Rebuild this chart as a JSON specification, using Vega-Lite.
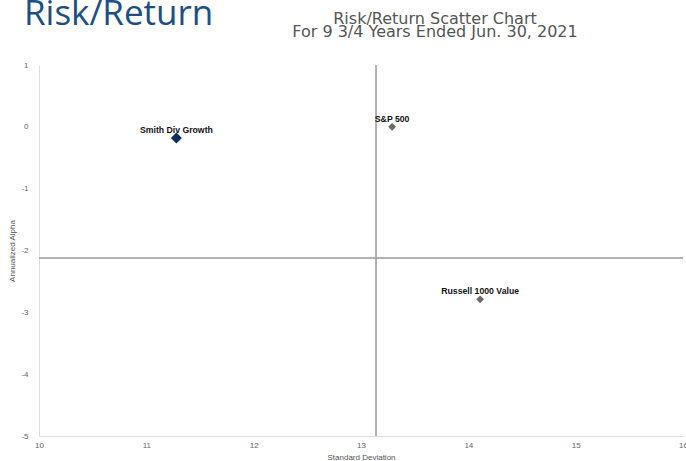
{
  "$schema": "https://vega.github.io/schema/vega-lite/v6.json",
  "autosize": "none",
  "padding": {"left": 39, "top": 65, "right": 3, "bottom": 25},
  "width": 644,
  "height": 371,
  "background": "white",
  "datasets": {
    "points": [
      {"name": "Smith Div Growth", "std": 11.28, "alpha": -0.18, "kind": "fund"},
      {"name": "S&P 500", "std": 13.29, "alpha": 0.0, "kind": "index"},
      {"name": "Russell 1000 Value", "std": 14.11, "alpha": -2.79, "kind": "index"}
    ],
    "cross": [{"std": 13.14, "alpha": -2.12}],
    "header": [{"text": "Risk/Return"}]
  },
  "title": {
    "text": ["Risk/Return Scatter Chart", "For 9 3/4 Years Ended Jun. 30, 2021"],
    "anchor": "middle",
    "frame": "group",
    "baseline": "bottom",
    "dx": 74,
    "offset": -59,
    "fontSize": 16,
    "lineHeight": 13,
    "font": "DejaVu Sans",
    "fontWeight": "normal",
    "color": "#555555"
  },
  "layer": [
    {
      "data": {"name": "cross"},
      "mark": {"type": "rule", "color": "#9a9a9a", "strokeWidth": 1.5},
      "encoding": {"x": {"field": "std", "type": "quantitative"}}
    },
    {
      "data": {"name": "cross"},
      "mark": {"type": "rule", "color": "#9a9a9a", "strokeWidth": 1.5},
      "encoding": {"y": {"field": "alpha", "type": "quantitative"}}
    },
    {
      "data": {"name": "points"},
      "mark": {"type": "point", "shape": "diamond", "filled": true, "opacity": 1},
      "encoding": {
        "x": {"field": "std", "type": "quantitative",
          "scale": {"domain": [10, 16], "nice": false, "zero": false},
          "axis": {"title": "Standard Deviation", "values": [10, 11, 12, 13, 14, 15, 16], "labelExpr": "'' + datum.value", "labelFlush": false, "grid": false, "ticks": false,
            "domainColor": "#dddddd", "labelColor": "#666666", "labelFontSize": 8, "labelPadding": 5,
            "labelFont": "Liberation Sans", "titleFont": "Liberation Sans", "titleFontSize": 8, "titleFontWeight": "normal",
            "titleColor": "#555555", "titlePadding": 4}},
        "y": {"field": "alpha", "type": "quantitative",
          "scale": {"domain": [-5, 1], "nice": false, "zero": false},
          "axis": {"title": "Annualized Alpha", "values": [-5, -4, -3, -2, -1, 0, 1], "labelExpr": "'' + datum.value", "labelFlush": false, "grid": false, "ticks": false,
            "domainColor": "#dddddd", "labelColor": "#666666", "labelFontSize": 8, "labelPadding": 11,
            "labelFont": "Liberation Sans", "titleFont": "Liberation Sans", "titleFontSize": 8, "titleFontWeight": "normal",
            "titleColor": "#555555", "titlePadding": 4}},
        "color": {"field": "kind", "type": "nominal", "scale": {"domain": ["fund", "index"], "range": ["#0b2e5c", "#6b6b6b"]}, "legend": null},
        "size": {"field": "kind", "type": "nominal", "scale": {"domain": ["fund", "index"], "range": [121, 60]}, "legend": null}
      }
    },
    {
      "data": {"name": "points"},
      "mark": {"type": "text", "font": "Liberation Sans", "fontWeight": "bold", "fontSize": 8.7, "color": "#111111", "baseline": "alphabetic", "dy": -5},
      "encoding": {
        "x": {"field": "std", "type": "quantitative"},
        "y": {"field": "alpha", "type": "quantitative"},
        "text": {"field": "name"}
      }
    },
    {
      "data": {"name": "header"},
      "mark": {"type": "text", "font": "Open Sans", "fontSize": 35, "color": "#1d4f87", "align": "left", "baseline": "alphabetic", "dx": -15, "dy": -40},
      "encoding": {
        "x": {"datum": 10, "type": "quantitative"},
        "y": {"datum": 1, "type": "quantitative"},
        "text": {"field": "text"}
      }
    }
  ],
  "config": {"view": {"stroke": null}}
}
